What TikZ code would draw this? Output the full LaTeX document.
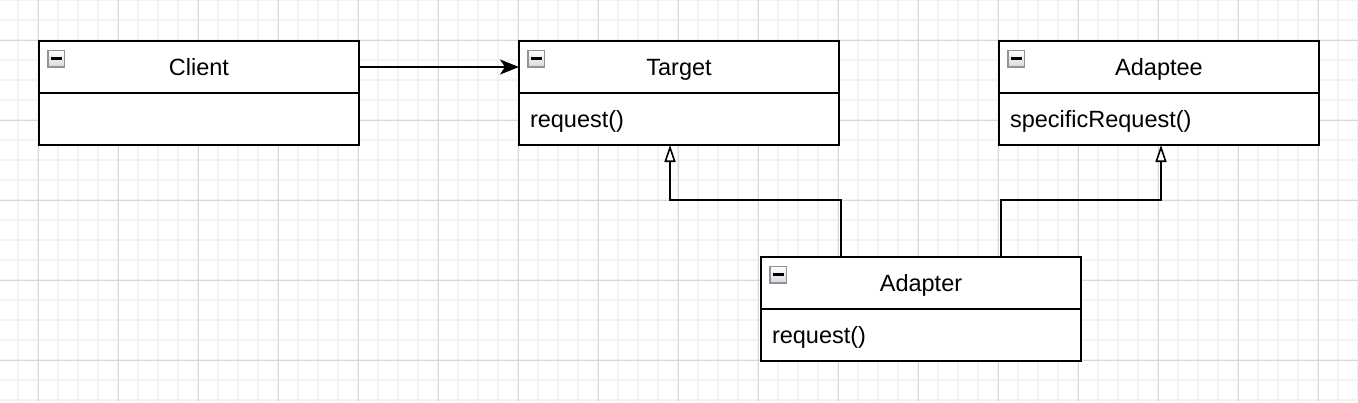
\documentclass[tikz,border=0pt]{standalone}
\usepackage{fontspec}
\setmainfont{Liberation Sans}
\usetikzlibrary{arrows.meta}
\definecolor{gridminor}{RGB}{243,243,243}
\definecolor{gridmajor}{RGB}{216,216,216}
\definecolor{iconborder}{RGB}{140,146,158}
\begin{document}
\begin{tikzpicture}[x=1pt,y=-1pt,
  hdr/.style={draw=black, line width=1.6pt, fill=white, minimum width=320pt, minimum height=52pt,
    inner sep=0pt, outer sep=0pt, anchor=north west, text height=16.5pt, text depth=0pt,
    font=\fontsize{23.5}{27}\selectfont},
  bdy/.style={draw=black, line width=1.6pt, fill=white, minimum width=320pt, minimum height=52pt,
    inner sep=0pt, outer sep=0pt, anchor=north west, text width=298pt, align=left,
    text height=16.5pt, text depth=0pt, font=\fontsize{23.5}{27}\selectfont},
  icon/.style={draw=iconborder, line width=1.5pt, top color=white, bottom color=gray!30,
    minimum size=16.5pt, inner sep=0pt, outer sep=0pt, anchor=north west},
  conn/.style={draw=black, line width=1.6pt},
  assoc/.style={conn, -{Stealth[length=19pt,width=15pt,inset=5pt]}},
  gen/.style={conn, -{Triangle[open,length=17pt,width=11pt,fill=white]}}
]
% background and bounding box
\fill[white] (0,0) rectangle (1358,402);
\useasboundingbox (0,0) rectangle (1358,402);
% grid
\foreach \x in {18,38,...,1358} {\draw[gridminor, line width=1.1pt] (\x,0) -- (\x,402);}
\foreach \y in {0,20,...,400} {\draw[gridminor, line width=1.1pt] (0,\y) -- (1358,\y);}
\foreach \x in {38,118,...,1358} {\draw[gridmajor, line width=0.9pt] (\x,0) -- (\x,402);}
\foreach \y in {40,120,...,400} {\draw[gridmajor, line width=0.9pt] (0,\y) -- (1358,\y);}

% classes
\node[hdr] (client) at (39,41) {Client};
\node[bdy] (clientbody) at (client.south west) {};
\node[icon] (clienticon) at ([xshift=9pt,yshift=-9.5pt]client.north west) {\rule{10.5pt}{2.6pt}};

\node[hdr] (target) at (519,41) {Target};
\node[bdy] (targetbody) at (target.south west) {request()};
\node[icon] (targeticon) at ([xshift=9pt,yshift=-9.5pt]target.north west) {\rule{10.5pt}{2.6pt}};

\node[hdr] (adaptee) at (999,41) {Adaptee};
\node[bdy] (adapteebody) at (adaptee.south west) {specificRequest()};
\node[icon] (adapteeicon) at ([xshift=9pt,yshift=-9.5pt]adaptee.north west) {\rule{10.5pt}{2.6pt}};

\node[hdr] (adapter) at (761,257) {Adapter};
\node[bdy] (adapterbody) at (adapter.south west) {request()};
\node[icon] (adaptericon) at ([xshift=9pt,yshift=-9.5pt]adapter.north west) {\rule{10.5pt}{2.6pt}};

% connectors
\draw[assoc] (client.east) -- (target.west);
\draw[gen] ([xshift=80pt]adapter.north west) |- ([xshift=151pt,yshift=-55pt]targetbody.south west)
  -- ([xshift=151pt]targetbody.south west);
\draw[gen] ([xshift=240pt]adapter.north west) |- ([xshift=162pt,yshift=-55pt]adapteebody.south west)
  -- ([xshift=162pt]adapteebody.south west);
\end{tikzpicture}
\end{document}
